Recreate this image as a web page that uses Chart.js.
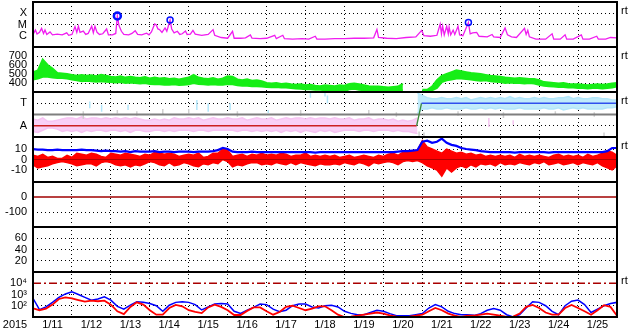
<!DOCTYPE html>
<html><head><meta charset="utf-8">
<script src="https://cdn.jsdelivr.net/npm/chart.js@4/dist/chart.umd.min.js"></script>
<style>html,body{margin:0;padding:0;background:#fff;}canvas{display:block}</style>
</head><body>
<canvas id="c" width="633" height="334"></canvas>
<script>
// ---------- categories / tick labels ----------
const dayLabels = ['1/11','1/12','1/13','1/14','1/15','1/16','1/17','1/18','1/19','1/20','1/21','1/22','1/23','1/24','1/25'];
const yearLabel = '2015';
const rtLabel = 'rt';
const xrayTickVals = [1e-4, 1e-5, 1e-6];
const xrayTickText = ['X', 'M', 'C'];
const windTickVals = [700, 600, 500, 400];
const sectorTickVals = [1, -1];
const sectorTickText = ['T', 'A'];
const bTickVals = [10, 0, -10];
const dstTickVals = [0, -100];
const kpTickVals = [60, 40, 20];
const elecTickVals = [1e4, 1e3, 1e2];
const elecTickText = ['10\u2074', '10\u00b3', '10\u00b2'];

// ---------- series (hours since 1/11 00:00) ----------
// X-ray flux [hour, W/m2]
const xrayFlux = [[0,1.3e-6],[1.5,3.2e-6],[2.5,1.4e-6],[4,2e-6],[5.3,4.5e-6],[6.5,1.6e-6],[7.4,3.3e-6],[8.5,1.3e-6],[10.5,2.2e-6],[12,1.2e-6],[15,1.4e-6],[18,1.2e-6],[20.8,1.8e-6],[22,1.1e-6],[24,1.3e-6],[25.9,6.5e-6],[27,2e-6],[28,7e-6],[29,2e-6],[31,2.6e-6],[32.5,1.3e-6],[34,1.6e-6],[36.2,7e-6],[37.2,1.8e-6],[38.2,7e-6],[39.5,2e-6],[41,1.3e-6],[43,1.5e-6],[45.4,4e-6],[46.5,1.2e-6],[49,1.2e-6],[51,1.6e-6],[52,5.7e-5],[53,8e-6],[54.5,2.5e-6],[56,1.3e-6],[59,1.2e-6],[61,1.6e-6],[63,2.8e-6],[64.5,1.3e-6],[67,1.2e-6],[70,1.7e-6],[71.5,1.2e-6],[73,2.2e-6],[75,1.1e-5],[76,9e-6],[77,4e-6],[78,3.5e-6],[79.5,2e-6],[81.4,5e-6],[82.5,2.5e-6],[84.5,2.5e-5],[85.5,4e-6],[87,1.8e-6],[89,2.5e-6],[90.5,1.3e-6],[92,1.5e-6],[94,2.6e-6],[95,1.3e-6],[97,1.4e-6],[98.6,3e-6],[100,1.4e-6],[104,1.1e-6],[108,1.3e-6],[111,3.5e-6],[112,1.1e-6],[116,7e-7],[120,6e-7],[123,2.5e-6],[124,6e-7],[128,6e-7],[131,6.5e-7],[134,1.2e-6],[135,6e-7],[140,5.5e-7],[144,6e-7],[149,1.1e-6],[150,5.5e-7],[154,1.1e-6],[155,5.5e-7],[160,5e-7],[166,5.5e-7],[170,5e-7],[174,9e-7],[175,5e-7],[180,5e-7],[186,5.5e-7],[192,5.5e-7],[198,6e-7],[204,6e-7],[210,6.5e-7],[212,3.6e-6],[213,7e-7],[218,6e-7],[224,5.5e-7],[230,7e-7],[236,8e-7],[239.6,3e-6],[241,1e-6],[245,9e-7],[249,1.1e-6],[251,1.1e-5],[251.8,1.5e-6],[252.5,7e-6],[253.5,1.2e-6],[255,7e-6],[256,1.5e-6],[256.5,6e-6],[257.5,1.2e-6],[259,3.2e-6],[260,1.3e-6],[262,7e-6],[263,1.2e-6],[265,1e-6],[268.4,1.5e-5],[269.5,1.5e-6],[271,1.8e-6],[273.5,2e-6],[275,9e-7],[280,8e-7],[283,1.3e-6],[284,8e-7],[288,7e-7],[291,5e-6],[292.5,1.2e-6],[295,8e-7],[298,7e-7],[303,4.5e-6],[304,1.3e-6],[305,3e-6],[306,8e-7],[310,5e-7],[316,5e-7],[320,1.5e-6],[321,5e-7],[325,5e-7],[328,1.2e-6],[329,5e-7],[333,5e-7],[338,1.2e-6],[339,5e-7],[343,5e-7],[347.5,9e-7],[348.5,5e-7],[353,5e-7],[356,7e-7],[360,6.5e-7]];
const flares = [[52,5.7e-5],[84.5,2.5e-5],[268.4,1.5e-5]];

// Solar wind speed (km/s), 3-hour steps, upper and lower edge of the band
const windHi = [520,540,660,600,560,510,505,500, 490,480,490,480,485,475,490,480, 470,465,475,460,470,460,455,465, 450,460,450,455,445,450,440,450, 460,490,460,450,445,455,440,450, 475,470,440,430,440,425,430,420, 400,395,400,390,395,385,380,385, 375,380,370,365,375,370,365,375, 370,390,395,385,375,365,360,360, 355,350,355,360,390,null,null,null, 325,325,360,430,480,500,520,540, 530,520,510,505,500,490,480,475, 470,460,455,450,455,450,445,445, 430,410,405,400,395,400,390,385, 385,380,375,380,385,380,385,395, 400];
const windLo = [440,450,470,470,460,455,455,450, 440,430,420,425,420,415,420,415, 410,405,410,400,405,400,395,400, 390,385,385,380,380,385,378,380, 385,400,390,385,380,385,380,380, 390,385,375,370,370,365,365,360, 355,352,355,350,350,345,340,335, 330,330,325,325,320,310,310,315, 310,330,335,325,320,320,315,315, 312,312,315,310,320,null,null,null, 305,305,320,345,410,430,440,450, 450,445,440,430,425,430,420,415, 410,400,405,400,400,395,400,395, 380,370,365,360,355,355,350,350, 345,345,340,345,345,340,345,350, 360];

// IMF sector: pink band (away), light blue band (toward), 3-hour steps
const pinkHi = [-0.4,-0.5,-0.3,-0.6,-0.6,-0.5,-0.4,-0.3, -0.3,-0.4,-0.2,-0.4,-0.3,-0.3,-0.4,-0.3, -0.4,-0.3,-0.4,-0.3,-0.4,-0.3,-0.4,-0.5, -0.5,-0.4,-0.5,-0.4,-0.5,-0.3,-0.4,-0.4, -0.3,-0.4,-0.3,-0.5,-0.4,-0.3,-0.4,-0.4, -0.3,-0.4,-0.4,-0.3,-0.5,-0.4,-0.3,-0.4, -0.4,-0.3,-0.5,-0.4,-0.3,-0.4,-0.3,-0.3, -0.4,-0.3,-0.4,-0.3,-0.3,-0.4,-0.3,-0.4, -0.4,-0.3,-0.5,-0.4,-0.4,-0.3,-0.5,-0.4, -0.4,-0.5,-0.4,-0.6,-0.5,-0.6,-0.5,-0.3];
const pinkLo = [-1.5,-1.6,-1.4,-1.2,-1.2,-1.3,-1.5,-1.4, -1.5,-1.4,-1.6,-1.4,-1.5,-1.4,-1.4,-1.5, -1.4,-1.4,-1.5,-1.4,-1.6,-1.4,-1.4,-1.5, -1.5,-1.4,-1.4,-1.5,-1.4,-1.5,-1.4,-1.4, -1.4,-1.5,-1.4,-1.4,-1.5,-1.4,-1.4,-1.4, -1.4,-1.4,-1.5,-1.4,-1.4,-1.5,-1.4,-1.5, -1.4,-1.5,-1.4,-1.6,-1.4,-1.5,-1.4,-1.6, -1.4,-1.5,-1.6,-1.4,-1.5,-1.4,-1.6,-1.5, -1.4,-1.4,-1.4,-1.5,-1.4,-1.4,-1.5,-1.4, -1.4,-1.4,-1.5,-1.4,-1.5,-1.5,-1.6,-1.7];
const towardStartHour = 237;
const towardHi = [1.9, 1.7,1.5,1.4,1.4,1.5,1.4,1.4,1.5, 1.4,1.5,1.3,1.4,1.5,1.4,1.5,1.4, 1.5,1.4,1.6,1.4,1.5,1.4,1.4,1.5, 1.4,1.5,1.4,1.4,1.5,1.5,1.6,1.4, 1.5,1.4,1.4,1.5,1.5,1.4,1.4,1.3, 1.3];
const towardLo = [0.1, 0.5,0.5,0.6,0.5,0.5,0.6,0.5,0.5, 0.5,0.6,0.5,0.5,0.6,0.5,0.6,0.5, 0.6,0.5,0.5,0.5,0.6,0.5,0.5,0.5, 0.5,0.6,0.5,0.5,0.6,0.4,0.5,0.6, 0.5,0.6,0.5,0.5,0.5,0.5,0.6,0.6, 0.7];
// [hour, low, high]
const towardSpikes = [[35,0.56,1.16],[42.3,0.25,0.86],[58.6,0.4,0.86],[101,0.4,1.3],[108,0.25,1.0],[121.5,0.4,1.0],[145,0.13,0.4],[171,1.5,1.95],[180,1.6,1.95],[181.5,1.0,1.7]];
const graySpikes = [[31,-0.4,0.3],[52,0.1,0.4],[64,-0.1,0.3],[80,0.0,0.5],[96,0.1,0.5],[126,-0.2,0.3],[165,-0.1,0.4],[207,0.0,0.4],[224,-0.2,0.2],[238,-1.9,-1.5],[241,-1.9,-1.6],[262,-0.1,0.3],[290,-0.3,0.2],[322,0.0,0.3],[346,-0.2,0.2],[352,-1.9,-1.6]];
const awaySpikes = [[281,-1.1,-0.3],[296,-0.9,-0.5]];
const sectorHours = [0, 236.5, 239.5, 360];
const sectorState = [-1, -1, 1, 1];

// IMF Bz band (nT) and Bt (nT), 3-hour steps
const bzHi = [4,3,5,2,3,1,1,4, 2,6,5,4,6,5,3,2, 6,5,4,6,5,4,3,5, 4,7,6,5,6,5,3,4, 5,4,6,2,3,6,6,10, 9,3,4,5,3,5,4,6, 4,5,4,6,5,3,4,4, 6,3,4,3,4,3,4,2, 3,4,2,3,4,3,2,4, 3,5,6,4,7,8,8,9, 18,12,10,8,6,10,8,6, 7,5,6,4,5,3,4,3, 4,3,4,2,5,3,4,3, 4,3,2,4,5,3,4,3, 4,2,5,3,4,6,8,7, 4];
const bzLo = [-5,-8,-7,-6,-4,-3,-2,-3, -4,-6,-5,-4,-4,-6,-3,-2, -3,-5,-6,-5,-7,-5,-6,-4, -2,-3,-5,-6,-3,-6,-5,-3, -4,-6,-7,-4,-5,-3,-4,0, -2,-7,-5,-6,-4,-3,-3,-5, -4,-5,-3,-4,-5,-3,-5,-3, -4,-5,-6,-4,-5,-5,-4,-5, -3,-4,-5,-3,-4,-6,-3,-4, -3,-2,-3,-5,-2,-1,-2,-1, -3,-6,-8,-10,-16,-8,-12,-8, -6,-8,-5,-7,-4,-5,-4,-6, -3,-5,-4,-5,-3,-4,-5,-3, -4,-2,-5,-4,-3,-5,-4,-3, -5,-3,-4,-5,-3,-6,-8,-10, -6];
const bt = [10,9.5,9.5,9,9,9.5,9,9, 9,9,9.5,9,9,8.5,8,8.5, 8,8,7.5,8,7,8,7.5,7.5, 7.5,8,7,7.5,7.5,7,7.5,7.5, 7.5,7,7.5,7.5,7.5,8,9,11, 10,7.5,7,7,7,7.5,7,7, 7,7,7,7,7,7,7,7, 7,7,6.5,7,7,7,7,7, 7,7,7,7,7,7,7,7, 7,7,7,7.5,8,8,8.5,9, 17,18,16,17,20,16,14,13, 11,10,9.5,9,8,7.5,7,7, 7,7,7,6.5,7,7,7,7, 7,7,6.5,7,7,7,7,7, 7,7,7,7,7,7,8,11, 11];

// Electron flux, 4-hour steps
const elecBlue = [457,45,79,200,562,1122, 1778,1000,562,316,398,631, 316,89,50,112,224,200, 158,100,32,112,200,229, 200,126,42,79,141,158, 141,32,21,40,71,141, 126,50,30,40,100,141, 141,79,63,100,112,79, 32,21,16,16,25,40, 32,20,13,13,13,16, 20,63,126,79,32,20, 16,16,14,20,40,56, 40,16,10,16,63,229, 200,100,32,16,100,251, 316,126,25,50,100,158, 200];
const elecRed = [59,40,56,126,398,562, 447,316,229,282,251,282, 126,32,18,79,200,126, 40,16,16,63,117,89, 40,28,22,71,126,79, 40,15,15,35,71,71, 32,16,28,79,100,63, 40,56,89,89,40,16, 10,11,13,16,20,25, 20,14,11,10,11,13, 16,32,63,40,20,13, 10,13,13,16,20,16, 13,10,11,20,79,117, 63,25,16,16,63,117, 63,32,16,40,112,79, 13];
const elecAlert = 1e4;
const dstZero = 0;

// ---------- helpers ----------
const every = (arr, dt, start) => arr.map((v, i) => ({x: (start || 0) + i * dt, y: v}));
const pairs = arr => arr.map(p => ({x: p[0], y: p[1]}));
const spikes = arr => { const o = []; arr.forEach(s => { o.push({x: s[0], y: s[1]}, {x: s[0], y: s[2]}, {x: s[0], y: null}); }); return o; };
const flat = v => [{x: 0, y: v}, {x: dayLabels.length * 24, y: v}];

const FONT = {family: "'Liberation Sans', Arial, Helvetica, sans-serif", size: 11};
const DOT = [1, 3];

function yScale(id, opts, vals, texts, hideVals) {
  return Object.assign({
    position: 'left', stack: 'panels', stackWeight: 1,
    grid: {
      color: ctx => (ctx.tick && hideVals && hideVals.includes(ctx.tick.value)) ? 'rgba(0,0,0,0)' : '#000',
      lineWidth: 1, drawTicks: false
    },
    border: {display: false, dash: DOT},
    ticks: {
      font: FONT, color: '#000', padding: 6, autoSkip: false,
      callback: (v, i) => texts ? texts[i] : String(vals[i])
    },
    afterBuildTicks: s => { s.ticks = vals.map(v => ({value: v})); },
    afterFit: s => { s.width = 33; s.paddingTop = 0; s.paddingBottom = 0; }
  }, opts);
}

const tickHours = [];
for (let d = 0; d <= dayLabels.length; d++) { tickHours.push(d * 24); if (d < dayLabels.length) tickHours.push(d * 24 + 12); }

const scales = {
  x: {
    type: 'linear', position: 'bottom', min: 0, max: dayLabels.length * 24,
    afterBuildTicks: s => { s.ticks = tickHours.map(v => ({value: v})); },
    grid: {
      color: ctx => (ctx.tick && ctx.tick.value % 24 === 0 && ctx.tick.value > 0 && ctx.tick.value < dayLabels.length * 24) ? '#000' : 'rgba(0,0,0,0)',
      lineWidth: 1, drawTicks: false
    },
    border: {display: false, dash: DOT},
    ticks: {font: FONT, color: '#000', padding: 1, maxRotation: 0, autoSkip: false,
      callback: v => (v % 24 === 12) ? dayLabels[(v - 12) / 24] : ''},
    afterFit: s => { s.height = 17; s.paddingLeft = 0; s.paddingRight = 0; }
  },
  yElec: yScale('yElec', {type: 'logarithmic', min: 10, max: 1e5}, elecTickVals, elecTickText, [1e4]),
  yKp: yScale('yKp', {type: 'linear', min: 0, max: 80}, kpTickVals),
  yDst: yScale('yDst', {type: 'linear', min: -200, max: 100}, dstTickVals, null, [0]),
  yB: yScale('yB', {type: 'linear', min: -21.5, max: 21.5}, bTickVals, null, [0]),
  ySec: yScale('ySec', {type: 'linear', min: -2, max: 2}, sectorTickVals, sectorTickText),
  yWind: yScale('yWind', {type: 'linear', min: 300, max: 800}, windTickVals),
  yXray: yScale('yXray', {type: 'logarithmic', min: 1e-7, max: 1e-3}, xrayTickVals, xrayTickText, [1e-6])
};

const base = {type: 'line', pointRadius: 0, tension: 0, fill: false, spanGaps: false};
const ds = (o) => Object.assign({}, base, o);

const datasets = [
  // X-ray
  ds({data: pairs(flares), yAxisID: 'yXray', showLine: false, pointRadius: [3.5, 3, 3], pointBorderWidth: [2.5, 1.5, 1.5],
      pointBorderColor: '#0010ff', pointBackgroundColor: 'rgba(0,0,0,0)', order: 0}),
  ds({data: pairs(xrayFlux), yAxisID: 'yXray', borderColor: '#f01cf0', borderWidth: 1.3, order: 1}),
  // Wind band
  ds({data: every(windLo, 3), yAxisID: 'yWind', borderColor: '#16ee16', borderWidth: 2, order: 5}),
  ds({data: every(windHi, 3), yAxisID: 'yWind', borderColor: '#16ee16', borderWidth: 2, backgroundColor: '#16ee16', fill: '-1', order: 5}),
  // Sector
  ds({data: every(pinkLo, 3), yAxisID: 'ySec', borderColor: '#f6c4f2', borderWidth: 1.5, order: 7}),
  ds({data: every(pinkHi, 3), yAxisID: 'ySec', borderColor: '#f6c4f2', borderWidth: 1.5, backgroundColor: '#f9d0f6', fill: '-1', order: 7}),
  ds({data: every(towardLo, 3, towardStartHour), yAxisID: 'ySec', borderColor: '#b2e6fa', borderWidth: 1.5, order: 7}),
  ds({data: every(towardHi, 3, towardStartHour), yAxisID: 'ySec', borderColor: '#b2e6fa', borderWidth: 1.5, backgroundColor: '#c0ebfb', fill: '-1', order: 7}),
  ds({data: spikes(towardSpikes), yAxisID: 'ySec', borderColor: '#b2e6fa', borderWidth: 1.5, order: 6}),
  ds({data: spikes(graySpikes), yAxisID: 'ySec', borderColor: '#cfcfcf', borderWidth: 1.5, order: 6}),
  ds({data: spikes(awaySpikes), yAxisID: 'ySec', borderColor: '#f6c4f2', borderWidth: 1.5, order: 6}),
  ds({data: flat(0), yAxisID: 'ySec', borderColor: '#7f7f7f', borderWidth: 2, order: 3}),
  ds({data: sectorHours.map((h, i) => ({x: h, y: sectorState[i]})), yAxisID: 'ySec', borderWidth: 1.3, order: 2,
      segment: {borderColor: c => ['#cc2020', '#3b8a3b', '#3050ee'][c.p0DataIndex]}}),
  // Bz / Bt
  ds({data: every(bzLo, 3), yAxisID: 'yB', borderColor: '#ff0000', borderWidth: 1.5, order: 6}),
  ds({data: every(bzHi, 3), yAxisID: 'yB', borderColor: '#ff0000', borderWidth: 1.5, backgroundColor: '#ff0000', fill: '-1', order: 6}),
  ds({data: flat(0), yAxisID: 'yB', borderColor: '#b00000', borderWidth: 1, order: 3}),
  ds({data: every(bt, 3), yAxisID: 'yB', borderColor: '#0000ff', borderWidth: 2.2, order: 2}),
  // Dst
  ds({data: flat(dstZero), yAxisID: 'yDst', borderColor: '#a00000', borderWidth: 1.5, order: 3}),
  // Electrons
  ds({data: flat(elecAlert), yAxisID: 'yElec', borderColor: '#a80000', borderWidth: 1.3, borderDash: [8, 3, 2, 3], order: 4}),
  ds({data: every(elecBlue, 4), yAxisID: 'yElec', borderColor: '#0000ff', borderWidth: 1.5, order: 3}),
  ds({data: every(elecRed, 4), yAxisID: 'yElec', borderColor: '#ff0000', borderWidth: 1.8, order: 2})
];

const panelIds = ['yXray', 'yWind', 'ySec', 'yB', 'yDst', 'yKp', 'yElec'];
const rtPanels = ['yXray', 'yWind', 'ySec', 'yB', 'yElec'];

const framePlugin = {
  id: 'frame',
  afterDraw(chart) {
    const {ctx, chartArea: a} = chart;
    ctx.save();
    ctx.strokeStyle = '#000';
    ctx.lineWidth = 2;
    ctx.strokeRect(a.left, a.top, a.right - a.left, a.bottom - a.top);
    ctx.beginPath();
    panelIds.forEach(id => {
      const s = chart.scales[id];
      if (s.top > a.top + 1) { ctx.moveTo(a.left, s.top); ctx.lineTo(a.right, s.top); }
    });
    ctx.stroke();
    ctx.fillStyle = '#000';
    ctx.font = "11px 'Liberation Sans', Arial, sans-serif";
    ctx.textBaseline = 'middle';
    ctx.textAlign = 'left';
    rtPanels.forEach(id => ctx.fillText(rtLabel, a.right + 4, chart.scales[id].top + 8.5));
    ctx.textAlign = 'center';
    ctx.fillText(yearLabel, a.left / 2 - 1.5, a.bottom + 1 + 6.6);
    ctx.restore();
  }
};

new Chart(document.getElementById('c'), {
  type: 'line',
  data: {datasets},
  options: {
    responsive: false, animation: false, devicePixelRatio: 1,
    parsing: true, normalized: true,
    layout: {autoPadding: false, padding: {left: 0, right: 16, top: 2, bottom: 0}},
    plugins: {legend: {display: false}, tooltip: {enabled: false}, title: {display: false}},
    scales
  },
  plugins: [framePlugin]
});
</script>
</body></html>
